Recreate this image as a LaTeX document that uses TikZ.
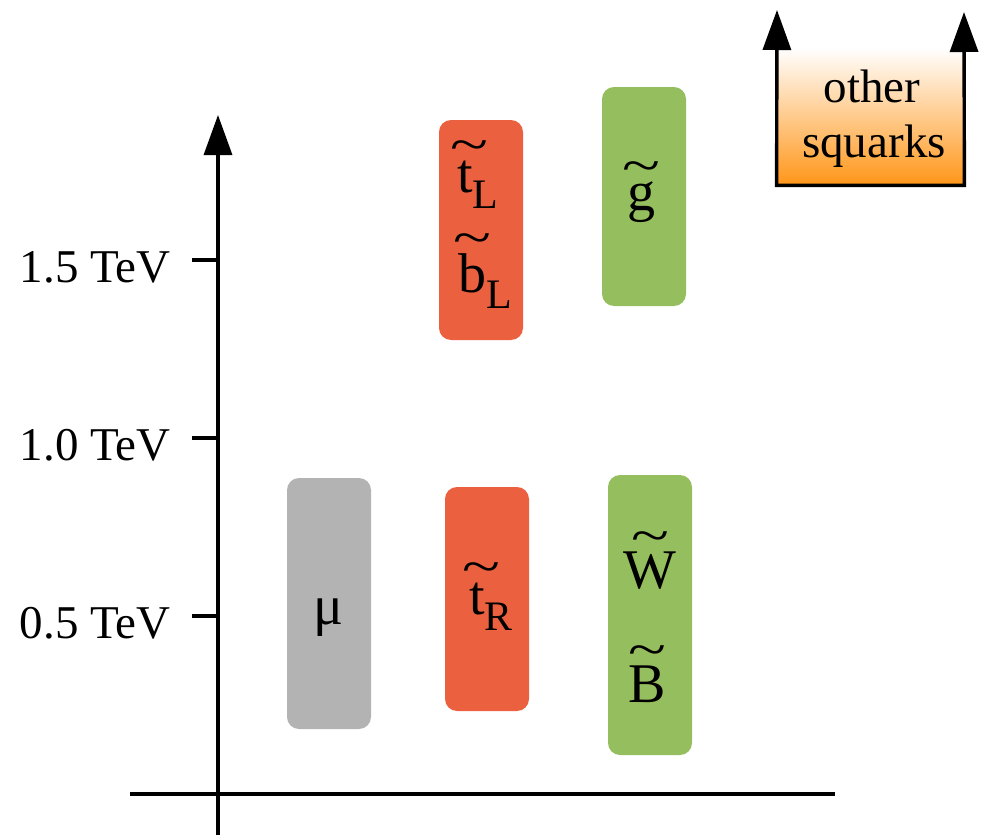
\RequirePackage{fix-cm}
\documentclass[tikz,border=0pt]{standalone}
\usepackage{graphicx}
\usepackage{fontspec}
\setmainfont{Liberation Serif}
\usetikzlibrary{arrows.meta}
\definecolor{redbox}{RGB}{235,97,63}
\definecolor{greenbox}{RGB}{149,190,94}
\definecolor{graybox}{RGB}{179,179,179}
\definecolor{orangebot}{RGB}{255,150,25}
% letter with a wide tilde above; optional argument = rightward shift of the tilde
\newcommand{\sq}[2][0pt]{\leavevmode\setbox0\hbox{#2}%
  \rlap{\hbox to\wd0{\hss\kern#1\raisebox{\dimexpr\ht0-0.02em\relax}{\scalebox{1.25}[0.9]{\textasciitilde}}\hss}}\box0}
\newcommand{\subL}[1]{\raisebox{-8pt}{\scalebox{0.75}{#1}}}
\begin{document}
\begin{tikzpicture}[x=0.5pt,y=-0.5pt,
  axisfont/.style={font=\fontsize{23.5}{27}\selectfont},
  boxfont/.style={font=\fontsize{28}{32}\selectfont},
  bar/.style={rounded corners=6pt, inner sep=0pt, minimum width=42pt, draw=none},
  axisline/.style={line width=1.7pt},
  tipend/.style={-{Triangle[length=20pt,width=14pt]}},
  txt/.style={anchor=base, inner sep=0pt}]
\useasboundingbox (0,0) rectangle (982,835);

% axes
\coordinate (ybot) at (218,835);
\coordinate (ytop) at (218,115);
\coordinate (xl) at (130,794);
\coordinate (xr) at (835,794);
\draw[axisline, tipend] (ybot) -- (ytop);
\draw[axisline] (xl) -- (xr);

% ticks and labels
\foreach \y/\t/\n in {260/1.5/a, 438/1.0/b, 616/0.5/c}{
  \coordinate (tk\n) at (192,\y);
  \coordinate (ax\n) at (218,\y);
  \draw[axisline] (tk\n) -- (ax\n);
  \node[axisfont, anchor=base east, inner sep=0pt] (lab\n) at (171,\y+22) {\t\ TeV};
}

% bars
\node[bar, fill=graybox,  minimum height=125.5pt] (mu) at (329,603.5) {};
\node[bar, fill=redbox,   minimum height=112pt]   (tR) at (487,599) {};
\node[bar, fill=greenbox, minimum height=140pt]   (WB) at (650,615) {};
\node[bar, fill=redbox,   minimum height=110pt]   (tLbL) at (481,230) {};
\node[bar, fill=greenbox, minimum height=109.5pt] (gl) at (644,196.5) {};

% bar labels
\node[txt, boxfont] (mulab) at (329,624) {μ};
\node[txt, boxfont] (tRlab) at (491,614) {\sq[4pt]{t}\subL{R}};
\node[txt, boxfont] (Wlab) at (650,588) {\sq{W}};
\node[txt, boxfont] (Blab) at (647,702) {\sq{B}};
\node[txt, boxfont] (tLlab) at (478,192) {\sq[4pt]{t}\subL{L}};
\node[txt, boxfont] (bLlab) at (485,292) {\sq{b}\subL{L}};
\node[txt, boxfont] (glab) at (641,210) {\sq{g}};

% other squarks
\node[inner sep=0pt, minimum width=93.5pt, minimum height=68.5pt,
      top color=white, bottom color=orangebot] (sq) at (870.5,116.5) {};
\coordinate (sqL) at (777,10);
\coordinate (sqR) at (964,12);
\draw[axisline, {Triangle[length=20pt,width=14pt]}-{Triangle[length=20pt,width=14pt]}]
  (sqL) -- (sq.south west) -- (sq.south east) -- (sqR);
\node[txt, axisfont] (oth) at (872,102) {other};
\node[txt, axisfont] (squ) at (874,157) {squarks};
\end{tikzpicture}
\end{document}
